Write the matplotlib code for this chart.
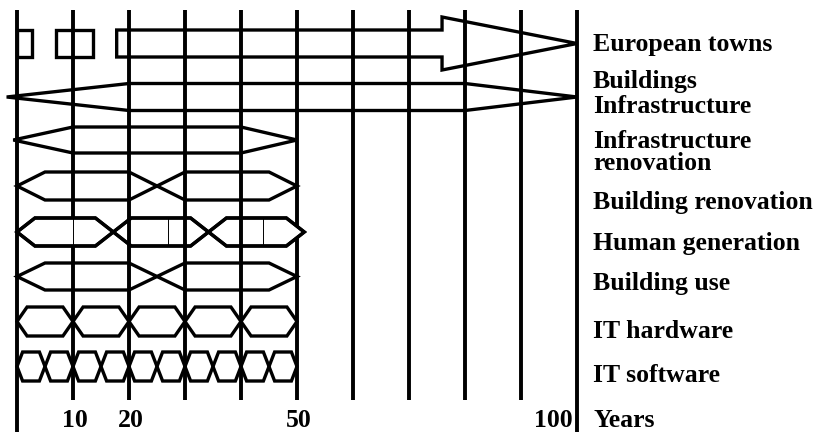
import matplotlib
matplotlib.use("Agg")
import matplotlib.pyplot as plt
from matplotlib.patches import Polygon

# ---------------- data ----------------
categories = ["European towns", "Buildings", "Infrastructure",
              "Infrastructure\nrenovation", "Building renovation",
              "Human generation", "Building use", "IT hardware", "IT software"]
axis_title = "Years"

grid_years = [0, 10, 20, 30, 40, 50, 60, 70, 80, 90, 100]
tick_years = [10, 20, 50, 100]
tick_labels = ["10", "20", "50", "100"]

town_box_start = [0.0, 7.0]
town_box_end = [2.7, 13.5]
town_arrow = [17.8, 75.9, 100.0]          # start, head base, tip

infra_arrow = [-1.85, 20.0, 80.0, 100.0]  # left tip, full from, full to, right tip
infra_reno = [-0.66, 10.0, 40.0, 50.0]

bldg_reno_start = [0, 25]
bldg_reno_end = [25, 50]

human_start = [0.0, 17.2, 34.2]
human_end = [17.2, 34.2, 51.3]
human_marks = [10, 27, 44]

bldg_use_start = [0, 25]
bldg_use_end = [25, 50]

it_hw_start = [0, 10, 20, 30, 40]
it_hw_end = [10, 20, 30, 40, 50]

it_sw_start = [0, 5, 10, 15, 20, 25, 30, 35, 40, 45]
it_sw_end = [5, 10, 15, 20, 25, 30, 35, 40, 45, 50]

# ---------------- layout ----------------
W, H = 825, 432
PX0, PXY = 17.0, 5.6           # pixel of year 0, pixels per year
fig = plt.figure(figsize=(W / 100, H / 100), dpi=100)
ax = fig.add_axes([0, 0, 1, 1])
ax.set_xlim(-PX0 / PXY, (W - PX0) / PXY)
ax.set_ylim(H, 0)
ax.axis("off")

GRID_LW = 2.8
SHAPE_LW = 2.4
FONT = dict(family="Liberation Serif", weight="bold", fontsize=18.5)

# grid lines
for yr in grid_years:
    bottom = H if yr in (grid_years[0], grid_years[-1]) else 400
    ax.plot([yr, yr], [10, bottom], color="black", lw=GRID_LW,
            solid_capstyle="butt", zorder=1)


def poly(points, fill=False, z=2):
    p = Polygon(points, closed=True, fill=fill, facecolor="white",
                edgecolor="black", lw=SHAPE_LW, joinstyle="miter", zorder=z)
    ax.add_patch(p)


def hexagon(x0, x1, c, h, sh, fill=False, z=2):
    poly([(x0, c), (x0 + sh, c - h), (x1 - sh, c - h), (x1, c),
          (x1 - sh, c + h), (x0 + sh, c + h)], fill=fill, z=z)


# European towns
c, h, hh = 43.5, 13.5, 26.5
for a, b in zip(town_box_start, town_box_end):
    poly([(a, c - h), (b, c - h), (b, c + h), (a, c + h)])
s, hb, tip = town_arrow
poly([(s, c - h), (hb, c - h), (hb, c - hh), (tip, c), (hb, c + hh),
      (hb, c + h), (s, c + h)])

# Buildings / Infrastructure double arrow
c, h = 97, 13.5
a, b, d, e = infra_arrow
poly([(a, c), (b, c - h), (d, c - h), (e, c), (d, c + h), (b, c + h)])

# Infrastructure renovation
c, h = 140, 13
a, b, d, e = infra_reno
poly([(a, c), (b, c - h), (d, c - h), (e, c), (d, c + h), (b, c + h)])

# Building renovation
for a, b in zip(bldg_reno_start, bldg_reno_end):
    hexagon(a, b, 186, 14, 5.0)

# Human generation (white filled, thin marks)
c, h = 232, 14
for a, b in zip(human_start, human_end):
    hexagon(a, b, c, h, 3.2, fill=True, z=2)
for m in human_marks:
    ax.plot([m, m], [c - h, c + h], color="black", lw=0.7, zorder=3)
for yr in [20, 30, 40]:
    ax.plot([yr, yr], [c - h, c + h], color="black", lw=GRID_LW,
            solid_capstyle="butt", zorder=3)
for a, b in zip(human_start, human_end):
    hexagon(a, b, c, h, 3.2, fill=False, z=4)

# Building use
for a, b in zip(bldg_use_start, bldg_use_end):
    hexagon(a, b, 276.5, 13.5, 5.0)

# IT hardware
for a, b in zip(it_hw_start, it_hw_end):
    hexagon(a, b, 321.5, 14.5, 1.8)

# IT software
for a, b in zip(it_sw_start, it_sw_end):
    hexagon(a, b, 366.5, 14.5, 1.0)

# right-hand labels (baseline of the last line of each label)
label_x = (593 - PX0) / PXY
label_base = [50.6, 87.7, 113.4, 170.0, 209.5, 249.6, 290.4, 338.0, 382.2]
for txt, yb in zip(categories, label_base):
    ax.text(label_x, yb, txt, ha="left", va="baseline", linespacing=0.95,
            **FONT)
ax.text(label_x, 426.7, axis_title, ha="left", va="baseline", **FONT)

# year tick labels
for yr, lab in zip(tick_years, tick_labels):
    if yr == grid_years[-1]:
        ax.text(yr - 0.7, 426.7, lab, ha="right", va="baseline", **FONT)
    else:
        ax.text(yr + 0.4, 426.7, lab, ha="center", va="baseline", **FONT)

fig.savefig("out.png", dpi=100)
